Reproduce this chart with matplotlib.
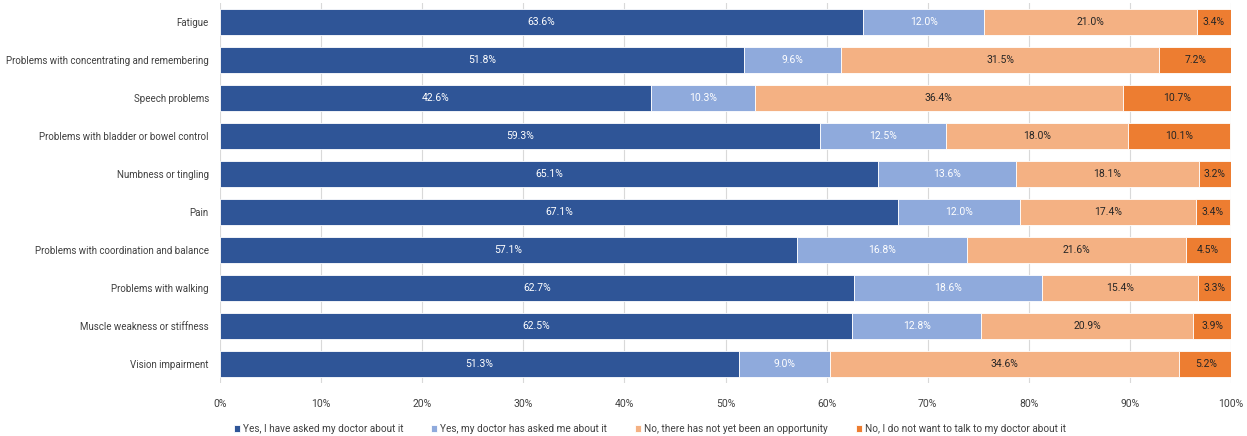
import numpy as np
import matplotlib.pyplot as plt

plt.rcParams['font.family'] = ['Roboto', 'DejaVu Sans']

symptoms = ['Fatigue', 'Problems with concentrating and remembering', 'Speech problems',
            'Problems with bladder or bowel control', 'Numbness or tingling', 'Pain',
            'Problems with coordination and balance', 'Problems with walking',
            'Muscle weakness or stiffness', 'Vision impairment']
asked_doctor = [63.6, 51.8, 42.6, 59.3, 65.1, 67.1, 57.1, 62.7, 62.5, 51.3]
doctor_asked = [12.0, 9.6, 10.3, 12.5, 13.6, 12.0, 16.8, 18.6, 12.8, 9.0]
no_opportunity = [21.0, 31.5, 36.4, 18.0, 18.1, 17.4, 21.6, 15.4, 20.9, 34.6]
no_talk = [3.4, 7.2, 10.7, 10.1, 3.2, 3.4, 4.5, 3.3, 3.9, 5.2]
series_names = ['Yes, I have asked my doctor about it', 'Yes, my doctor has asked me about it',
                'No, there has not yet been an opportunity', 'No, I do not want to talk to my doctor about it']

colors = ['#2F5597', '#8FAADC', '#F4B183', '#ED7D31']
text_colors = ['white', 'white', '#262626', '#262626']

fig = plt.figure(figsize=(12.47, 4.36), dpi=100)
ax = fig.add_axes([0.1764, 0.122, 0.8108, 0.872])

y = np.arange(len(symptoms))
left = np.zeros(len(symptoms))
for vals, name, c, tc in zip([asked_doctor, doctor_asked, no_opportunity, no_talk],
                             series_names, colors, text_colors):
    vals = np.array(vals)
    ax.barh(y, vals, left=left, height=0.68, color=c, label=name, edgecolor='white', linewidth=0.6)
    for yi, l, v in zip(y, left, vals):
        ax.text(l + v / 2, yi, f'{v:.1f}%', ha='center', va='center', fontsize=7.5, color=tc)
    left += vals

ax.set_xlim(0, 100)
ax.set_ylim(len(symptoms) - 0.5, -0.5)
ax.set_yticks(y)
ax.set_yticklabels(symptoms, fontsize=7.0, color='#404040')
ax.set_xticks(np.arange(0, 101, 10))
ax.set_xticklabels([f'{t}%' for t in range(0, 101, 10)], fontsize=7.5, color='#404040')
ax.tick_params(axis='y', length=0, pad=8)
ax.tick_params(axis='x', length=0, pad=12)
ax.grid(axis='x', color='#D9D9D9', linewidth=0.8)
ax.set_axisbelow(True)
for s in ax.spines.values():
    s.set_visible(False)

ax.legend(loc='upper center', bbox_to_anchor=(0.425, -0.085), ncol=4, frameon=False,
          fontsize=7.2, handlelength=0.6, handleheight=0.6, columnspacing=2.8, handletextpad=0.3,
          labelcolor='#404040')

plt.savefig('out.png', dpi=100)
